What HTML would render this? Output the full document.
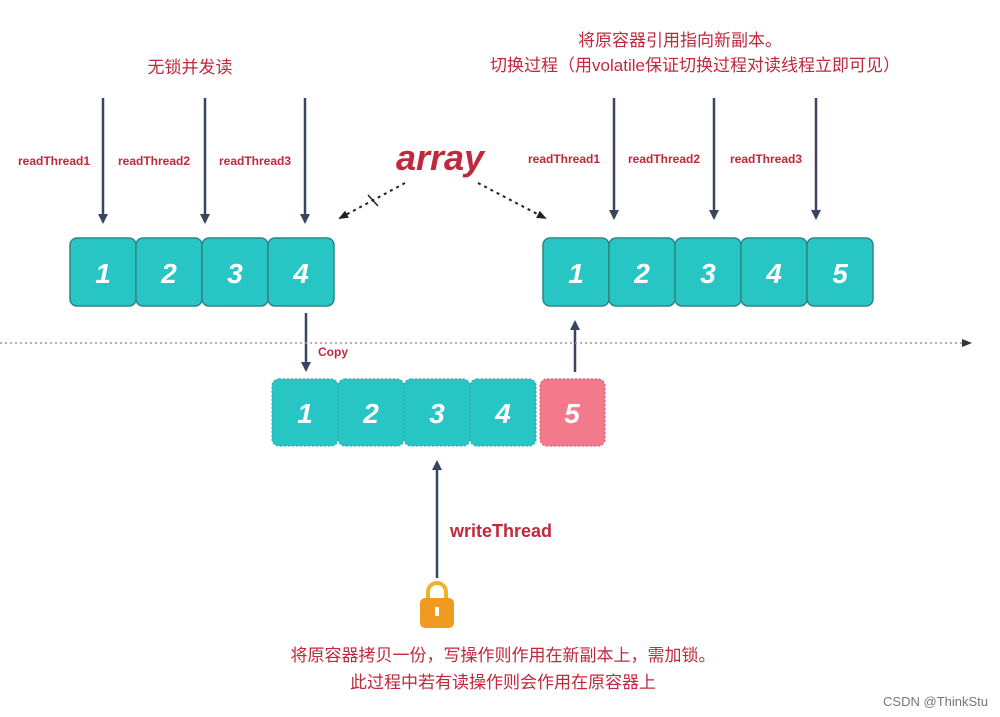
<!DOCTYPE html>
<html><head><meta charset="utf-8"><style>
html,body{margin:0;padding:0;background:#fff;width:1000px;height:717px;overflow:hidden}
svg{display:block}
.cn{font-family:"Liberation Sans","Noto Sans CJK SC",sans-serif;fill:#c0283c;font-size:17px}
.rt{font-family:"Liberation Sans",sans-serif;font-weight:bold;fill:#c0283c;font-size:12px}
.num{font-family:"Liberation Sans",sans-serif;font-weight:bold;font-style:italic;fill:#fff;font-size:28px}
</style></head><body>
<svg width="1000" height="717" viewBox="0 0 1000 717">
<defs>
<marker id="ah" markerWidth="10" markerHeight="10" refX="8" refY="5" orient="auto" markerUnits="userSpaceOnUse"><path d="M0,0 L10,5 L0,10 z" fill="#3a4560"/></marker>
<marker id="ad" markerWidth="10" markerHeight="10" refX="8" refY="5" orient="auto" markerUnits="userSpaceOnUse"><path d="M0,1 L10,5 L0,9 z" fill="#222"/></marker>
</defs>
<text class="cn" x="190" y="73" text-anchor="middle">无锁并发读</text>
<text class="cn" x="680" y="46" text-anchor="middle">将原容器引用指向新副本。</text>
<text class="cn" x="695" y="71" text-anchor="middle">切换过程（用volatile保证切换过程对读线程立即可见）</text>
<g stroke="#3a4560" stroke-width="2.5" marker-end="url(#ah)">
<line x1="103" y1="98" x2="103" y2="222"/><line x1="205" y1="98" x2="205" y2="222"/><line x1="305" y1="98" x2="305" y2="222"/>
<line x1="614" y1="98" x2="614" y2="218"/><line x1="714" y1="98" x2="714" y2="218"/><line x1="816" y1="98" x2="816" y2="218"/>
<line x1="306" y1="313" x2="306" y2="370"/><line x1="575" y1="372" x2="575" y2="322"/><line x1="437" y1="578" x2="437" y2="462"/>
</g>
<text class="rt" x="18" y="165">readThread1</text><text class="rt" x="118" y="165">readThread2</text><text class="rt" x="219" y="165">readThread3</text>
<text class="rt" x="528" y="163">readThread1</text><text class="rt" x="628" y="163">readThread2</text><text class="rt" x="730" y="163">readThread3</text>
<text x="440" y="170" text-anchor="middle" style="font-family:'Liberation Sans',sans-serif;font-weight:bold;font-style:italic;font-size:36px;fill:#c0283c">array</text>
<g stroke="#222" stroke-width="2" stroke-dasharray="3,4" fill="none">
<line x1="405" y1="183" x2="340" y2="218" marker-end="url(#ad)"/>
<line x1="478" y1="183" x2="545" y2="218" marker-end="url(#ad)"/>
</g>
<line x1="368" y1="195" x2="378" y2="206" stroke="#222" stroke-width="1.5"/>
<line x1="0" y1="343" x2="962" y2="343" stroke="#999" stroke-width="1.5" stroke-dasharray="2,3"/>
<path d="M962,339 L972,343 L962,347 z" fill="#333"/>
<text class="rt" x="318" y="356">Copy</text>
<g stroke="#2d8585" stroke-width="1.5" fill="#28c5c5">
<rect x="70" y="238" width="66" height="68" rx="7"/><rect x="136" y="238" width="66" height="68" rx="7"/><rect x="202" y="238" width="66" height="68" rx="7"/><rect x="268" y="238" width="66" height="68" rx="7"/>
<rect x="543" y="238" width="66" height="68" rx="7"/><rect x="609" y="238" width="66" height="68" rx="7"/><rect x="675" y="238" width="66" height="68" rx="7"/><rect x="741" y="238" width="66" height="68" rx="7"/><rect x="807" y="238" width="66" height="68" rx="7"/>
</g>
<g stroke="#3aa8a8" stroke-width="1.2" stroke-dasharray="2,2" fill="#28c5c5">
<rect x="272" y="379" width="66" height="67" rx="7"/><rect x="338" y="379" width="66" height="67" rx="7"/><rect x="404" y="379" width="66" height="67" rx="7"/><rect x="470" y="379" width="66" height="67" rx="7"/>
<rect x="540" y="379" width="65" height="67" rx="7" fill="#f27a8c" stroke="#d86070"/>
</g>
<g class="num" text-anchor="middle">
<text x="103" y="283">1</text><text x="169" y="283">2</text><text x="235" y="283">3</text><text x="301" y="283">4</text>
<text x="576" y="283">1</text><text x="642" y="283">2</text><text x="708" y="283">3</text><text x="774" y="283">4</text><text x="840" y="283">5</text>
<text x="305" y="423">1</text><text x="371" y="423">2</text><text x="437" y="423">3</text><text x="503" y="423">4</text><text x="572" y="423">5</text>
</g>
<text x="450" y="537" style="font-family:'Liberation Sans',sans-serif;font-weight:bold;font-size:18px;fill:#c0283c">writeThread</text>
<path d="M428,600 v-8 a9,9 0 0 1 18,0 v8" fill="none" stroke="#f0b030" stroke-width="4"/>
<rect x="420" y="598" width="34" height="30" rx="5" fill="#f09a20"/>
<rect x="435" y="607" width="4" height="9" fill="#fff"/>
<text class="cn" x="503" y="661" text-anchor="middle">将原容器拷贝一份，写操作则作用在新副本上，需加锁。</text>
<text class="cn" x="503" y="688" text-anchor="middle">此过程中若有读操作则会作用在原容器上</text>
<text x="988" y="706" text-anchor="end" style="font-family:'Liberation Sans',sans-serif;font-size:13px;fill:#777">CSDN @ThinkStu</text>
</svg>
</body></html>
